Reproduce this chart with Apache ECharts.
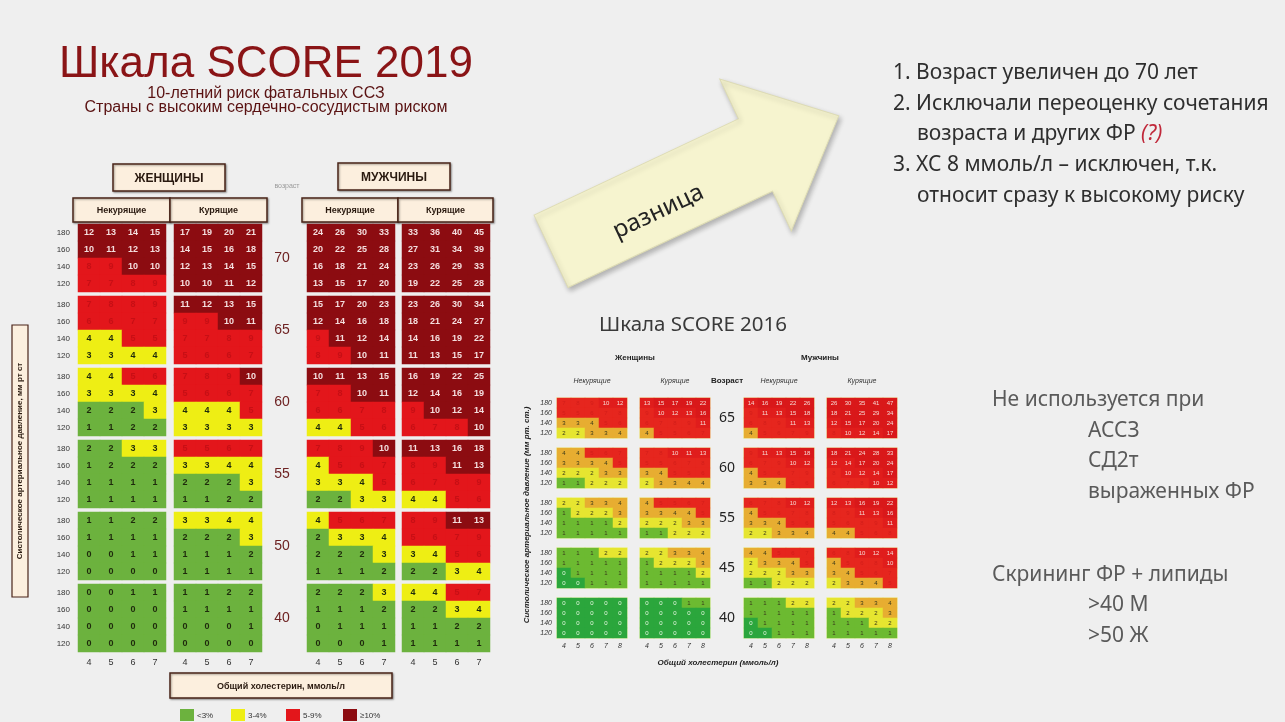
<!DOCTYPE html>
<html lang="ru">
<head>
<meta charset="UTF-8">
<title>Шкала SCORE 2019</title>
<script src="https://cdn.jsdelivr.net/npm/echarts@6.0.0/dist/echarts.min.js"></script>
<style>
  html, body { margin: 0; padding: 0; background: #efefef; }
  #main { width: 1285px; height: 722px; }
</style>
</head>
<body>
<div id="main"></div>
<script>
// ---------- SCORE 2019 (строки: САД 180,160,140,120; столбцы: ХС 4..7) ----------
const ages2019 = [70, 65, 60, 55, 50, 40];
const sbpRows = [180, 160, 140, 120];
const chol2019 = [4, 5, 6, 7];

const women2019NonSmoker = [
  [[12, 13, 14, 15], [10, 11, 12, 13], [8, 9, 10, 10], [7, 7, 8, 9]],
  [[7, 8, 8, 9], [6, 6, 7, 7], [4, 4, 5, 5], [3, 3, 4, 4]],
  [[4, 4, 5, 6], [3, 3, 3, 4], [2, 2, 2, 3], [1, 1, 2, 2]],
  [[2, 2, 3, 3], [1, 2, 2, 2], [1, 1, 1, 1], [1, 1, 1, 1]],
  [[1, 1, 2, 2], [1, 1, 1, 1], [0, 0, 1, 1], [0, 0, 0, 0]],
  [[0, 0, 1, 1], [0, 0, 0, 0], [0, 0, 0, 0], [0, 0, 0, 0]]
];
const women2019Smoker = [
  [[17, 19, 20, 21], [14, 15, 16, 18], [12, 13, 14, 15], [10, 10, 11, 12]],
  [[11, 12, 13, 15], [9, 9, 10, 11], [7, 7, 8, 9], [5, 6, 6, 7]],
  [[7, 8, 9, 10], [5, 6, 6, 7], [4, 4, 4, 5], [3, 3, 3, 3]],
  [[5, 5, 6, 7], [3, 3, 4, 4], [2, 2, 2, 3], [1, 1, 2, 2]],
  [[3, 3, 4, 4], [2, 2, 2, 3], [1, 1, 1, 2], [1, 1, 1, 1]],
  [[1, 1, 2, 2], [1, 1, 1, 1], [0, 0, 0, 1], [0, 0, 0, 0]]
];
const men2019NonSmoker = [
  [[24, 26, 30, 33], [20, 22, 25, 28], [16, 18, 21, 24], [13, 15, 17, 20]],
  [[15, 17, 20, 23], [12, 14, 16, 18], [9, 11, 12, 14], [8, 9, 10, 11]],
  [[10, 11, 13, 15], [7, 8, 10, 11], [6, 6, 7, 8], [4, 4, 5, 6]],
  [[7, 8, 9, 10], [4, 5, 6, 7], [3, 3, 4, 5], [2, 2, 3, 3]],
  [[4, 5, 6, 7], [2, 3, 3, 4], [2, 2, 2, 3], [1, 1, 1, 2]],
  [[2, 2, 2, 3], [1, 1, 1, 2], [0, 1, 1, 1], [0, 0, 0, 1]]
];
const men2019Smoker = [
  [[33, 36, 40, 45], [27, 31, 34, 39], [23, 26, 29, 33], [19, 22, 25, 28]],
  [[23, 26, 30, 34], [18, 21, 24, 27], [14, 16, 19, 22], [11, 13, 15, 17]],
  [[16, 19, 22, 25], [12, 14, 16, 19], [9, 10, 12, 14], [6, 7, 8, 10]],
  [[11, 13, 16, 18], [8, 9, 11, 13], [6, 7, 8, 9], [4, 4, 5, 6]],
  [[8, 9, 11, 13], [5, 6, 7, 9], [3, 4, 5, 6], [2, 2, 3, 4]],
  [[4, 4, 5, 7], [2, 2, 3, 4], [1, 1, 2, 2], [1, 1, 1, 1]]
];
const legend2019 = ['<3%', '3-4%', '5-9%', '≥10%'];

// ---------- SCORE 2016 (столбцы: ХС 4..8) ----------
const ages2016 = [65, 60, 55, 45, 40];
const chol2016 = [4, 5, 6, 7, 8];

const women2016NonSmoker = [
  [[7, 8, 9, 10, 12], [5, 5, 6, 7, 8], [3, 3, 4, 5, 6], [2, 2, 3, 3, 4]],
  [[4, 4, 5, 6, 7], [3, 3, 3, 4, 5], [2, 2, 2, 3, 3], [1, 1, 2, 2, 2]],
  [[2, 2, 3, 3, 4], [1, 2, 2, 2, 3], [1, 1, 1, 1, 2], [1, 1, 1, 1, 1]],
  [[1, 1, 1, 2, 2], [1, 1, 1, 1, 1], [0, 1, 1, 1, 1], [0, 0, 1, 1, 1]],
  [[0, 0, 0, 0, 0], [0, 0, 0, 0, 0], [0, 0, 0, 0, 0], [0, 0, 0, 0, 0]]
];
const women2016Smoker = [
  [[13, 15, 17, 19, 22], [9, 10, 12, 13, 16], [6, 7, 8, 9, 11], [4, 5, 5, 6, 7]],
  [[7, 8, 10, 11, 13], [5, 5, 6, 7, 8], [3, 4, 5, 5, 6], [2, 3, 3, 4, 4]],
  [[4, 5, 5, 6, 7], [3, 3, 4, 4, 5], [2, 2, 2, 3, 3], [1, 1, 2, 2, 2]],
  [[2, 2, 3, 3, 4], [1, 2, 2, 2, 3], [1, 1, 1, 1, 2], [1, 1, 1, 1, 1]],
  [[0, 0, 0, 1, 1], [0, 0, 0, 0, 0], [0, 0, 0, 0, 0], [0, 0, 0, 0, 0]]
];
const men2016NonSmoker = [
  [[14, 16, 19, 22, 26], [9, 11, 13, 15, 18], [6, 8, 9, 11, 13], [4, 5, 6, 7, 9]],
  [[9, 11, 13, 15, 18], [6, 7, 9, 10, 12], [4, 5, 6, 7, 9], [3, 3, 4, 5, 6]],
  [[6, 7, 8, 10, 12], [4, 5, 6, 7, 8], [3, 3, 4, 5, 6], [2, 2, 3, 3, 4]],
  [[4, 4, 5, 6, 7], [2, 3, 3, 4, 5], [2, 2, 2, 3, 3], [1, 1, 2, 2, 2]],
  [[1, 1, 1, 2, 2], [1, 1, 1, 1, 1], [0, 1, 1, 1, 1], [0, 0, 1, 1, 1]]
];
const men2016Smoker = [
  [[26, 30, 35, 41, 47], [18, 21, 25, 29, 34], [12, 15, 17, 20, 24], [8, 10, 12, 14, 17]],
  [[18, 21, 24, 28, 33], [12, 14, 17, 20, 24], [8, 10, 12, 14, 17], [6, 7, 8, 10, 12]],
  [[12, 13, 16, 19, 22], [8, 9, 11, 13, 16], [5, 6, 8, 9, 11], [4, 4, 5, 6, 8]],
  [[6, 8, 10, 12, 14], [4, 5, 6, 8, 10], [3, 4, 5, 6, 7], [2, 3, 3, 4, 5]],
  [[2, 2, 3, 3, 4], [1, 2, 2, 2, 3], [1, 1, 1, 2, 2], [1, 1, 1, 1, 1]]
];

// ---------- тексты справа ----------
const diffNotes = [
  '1. Возраст увеличен до 70 лет',
  '2. Исключали переоценку сочетания',
  'возраста и других ФР ',
  '3. ХС 8 ммоль/л – исключен, т.к.',
  'относит сразу к высокому риску'
];
const notUsedLines = ['Не используется при', 'АССЗ', 'СД2т', 'выраженных ФР'];
const screeningLines = ['Скрининг ФР + липиды', '>40 М', '>50 Ж'];

// ---------- построение ----------
const sbpAsc = sbpRows.slice().reverse().map(String);
const grid = [], xAxis = [], yAxis = [], series = [];

function addPanel(values, cols, left, top, w, h, showX, showY, look) {
  const i = grid.length;
  grid.push({
    left: left, top: top, width: w, height: h,
    show: !!look.border, borderColor: look.border || 'transparent',
    borderWidth: look.border ? 2 : 0, backgroundColor: 'transparent'
  });
  xAxis.push({
    gridIndex: i, type: 'category', data: cols.map(String),
    axisLine: { show: false }, axisTick: { show: false }, splitLine: { show: false },
    axisLabel: Object.assign({ show: showX }, look.xLabel)
  });
  yAxis.push({
    gridIndex: i, type: 'category', data: sbpAsc,
    axisLine: { show: false }, axisTick: { show: false }, splitLine: { show: false },
    axisLabel: Object.assign({ show: showY }, look.yLabel)
  });
  const data = [];
  values.forEach(function (row, r) {
    row.forEach(function (v, c) {
      data.push({ value: [c, values.length - 1 - r, v], label: { color: look.textColor(v) } });
    });
  });
  series.push({
    type: 'heatmap', xAxisIndex: i, yAxisIndex: i, data: data,
    label: Object.assign({ show: true }, look.cellLabel),
    itemStyle: { borderWidth: 0 }, emphasis: { disabled: true }, silent: true
  });
}

// 2019
const colors2019 = ['#6cb23e', '#eeee14', '#e3161b', '#8c0c11'];
const look2019 = {
  xLabel: { fontSize: 9, color: '#333', margin: 6, fontFamily: 'Liberation Sans' },
  yLabel: { fontSize: 8, color: '#333', margin: 8, fontFamily: 'Liberation Sans' },
  cellLabel: { fontSize: 9, fontWeight: 'bold', fontFamily: 'Liberation Sans' },
  textColor: function (v) { return v >= 10 ? '#f4dede' : (v >= 5 ? '#c70f15' : '#1e2a0c'); }
};
const panels2019 = [women2019NonSmoker, women2019Smoker, men2019NonSmoker, men2019Smoker];
const lefts2019 = [78, 174, 307, 402];
const tops2019 = [224, 296, 368, 440, 512, 584];
panels2019.forEach(function (panel, g) {
  panel.forEach(function (block, a) {
    addPanel(block, chol2019, lefts2019[g], tops2019[a], 88, 68,
      a === ages2019.length - 1, g === 0, look2019);
  });
});
const n2019 = series.length;

// 2016
const look2016 = {
  border: '#eef3c4',
  xLabel: { fontSize: 7, color: '#333', margin: 5, fontStyle: 'italic', fontFamily: 'Liberation Sans' },
  yLabel: { fontSize: 7, color: '#333', margin: 5, fontStyle: 'italic', fontFamily: 'Liberation Sans' },
  cellLabel: { fontSize: 6, fontFamily: 'Liberation Sans' },
  textColor: function (v) {
    if (v >= 10) return '#f6d8d2';
    if (v >= 5) return '#d21e1a';
    if (v === 0) return '#e6f6e0';
    return '#3a3a1a';
  }
};
const panels2016 = [women2016NonSmoker, women2016Smoker, men2016NonSmoker, men2016Smoker];
const lefts2016 = [557, 640, 744, 827];
const tops2016 = [398, 448, 498, 548, 598];
panels2016.forEach(function (panel, g) {
  panel.forEach(function (block, a) {
    addPanel(block, chol2016, lefts2016[g], tops2016[a], 70, 40,
      a === ages2016.length - 1, g === 0, look2016);
  });
});

const idx2019 = [], idx2016 = [];
series.forEach(function (s, i) { (i < n2019 ? idx2019 : idx2016).push(i); });

// ---------- графика: заголовки, рамки, стрелка ----------
const CREAM = '#fcefde', FRAME = '#4a2418';
function box(x, y, w, h, text, fontSize) {
  return {
    type: 'group', x: x, y: y,
    children: [
      { type: 'rect', shape: { x: 0, y: 0, width: w, height: h },
        style: { fill: CREAM, stroke: FRAME, lineWidth: 1.5,
                 shadowBlur: 2, shadowOffsetX: 1, shadowOffsetY: 1, shadowColor: 'rgba(0,0,0,0.35)' } },
      { type: 'text', x: w / 2, y: h / 2 + 1,
        style: { text: text, font: 'bold ' + fontSize + 'px "Liberation Sans"', fill: '#2a1a10',
                 textAlign: 'center', textVerticalAlign: 'middle', align: 'center', verticalAlign: 'middle' } }
    ]
  };
}
function txt(x, y, text, font, fill, align, extraStyle) {
  return {
    type: 'text', x: x, y: y,
    style: Object.assign({ text: text, font: font, fill: fill, textAlign: align || 'left', align: align || 'left',
             textVerticalAlign: 'middle', verticalAlign: 'middle' }, extraStyle || {})
  };
}

const graphics = [];
// SCORE 2019 заголовок
graphics.push(txt(266, 65, 'Шкала SCORE 2019', '44px "Liberation Sans"', '#8a1416', 'center',
  { shadowBlur: 2, shadowColor: 'rgba(120,0,0,0.3)' }));
graphics.push(txt(266, 94, '10-летний риск фатальных ССЗ', '16px "Liberation Sans"', '#5a1212', 'center'));
graphics.push(txt(266, 108, 'Страны с высоким сердечно-сосудистым риском', '16px "Liberation Sans"', '#5a1212', 'center'));
graphics.push(box(113, 164, 112, 27, 'ЖЕНЩИНЫ', 12));
graphics.push(box(338, 163, 112, 27, 'МУЖЧИНЫ', 12));
graphics.push(txt(287, 186, 'возраст', '7px "Liberation Sans"', '#9a9a9a', 'center'));
graphics.push(box(73, 198, 97, 24, 'Некурящие', 9));
graphics.push(box(170, 198, 97, 24, 'Курящие', 9));
graphics.push(box(302, 198, 96, 24, 'Некурящие', 9));
graphics.push(box(398, 198, 95, 24, 'Курящие', 9));
ages2019.forEach(function (age, a) {
  graphics.push(txt(282, tops2019[a] + 34, String(age), '14px "Liberation Sans"', '#6e2222', 'center'));
});
graphics.push(box(170, 673, 222, 25, 'Общий холестерин, ммоль/л', 9));
// легенда 2019
const legendX = [180, 231, 286, 343];
legend2019.forEach(function (name, i) {
  graphics.push({ type: 'rect', shape: { x: legendX[i], y: 709, width: 14, height: 12 },
                  style: { fill: colors2019[i] } });
  graphics.push(txt(legendX[i] + 17, 716, name, '8px "Liberation Sans"', '#333', 'left'));
});
// вертикальная подпись оси САД
graphics.push({
  type: 'group', x: 12, y: 325,
  children: [
    { type: 'rect', shape: { x: 0, y: 0, width: 16, height: 272 },
      style: { fill: CREAM, stroke: FRAME, lineWidth: 1.2 } },
    { type: 'text', x: 8, y: 136, rotation: Math.PI / 2,
      style: { text: 'Систолическое артериальное давление, мм рт ст', font: 'bold 8px "Liberation Sans"', fill: '#2a1a10',
               textAlign: 'center', align: 'center', textVerticalAlign: 'middle', verticalAlign: 'middle' } }
  ]
});

// SCORE 2016
graphics.push(txt(693, 325, 'Шкала SCORE 2016', '20.5px "Noto Sans"', '#3a3a3a', 'center'));
graphics.push(txt(635, 358, 'Женщины', 'bold 8px "Liberation Sans"', '#222', 'center'));
graphics.push(txt(820, 358, 'Мужчины', 'bold 8px "Liberation Sans"', '#222', 'center'));
graphics.push(txt(592, 381, 'Некурящие', 'italic 7px "Liberation Sans"', '#333', 'center'));
graphics.push(txt(675, 381, 'Курящие', 'italic 7px "Liberation Sans"', '#333', 'center'));
graphics.push(txt(727, 381, 'Возраст', 'bold 8px "Liberation Sans"', '#222', 'center'));
graphics.push(txt(779, 381, 'Некурящие', 'italic 7px "Liberation Sans"', '#333', 'center'));
graphics.push(txt(862, 381, 'Курящие', 'italic 7px "Liberation Sans"', '#333', 'center'));
ages2016.forEach(function (age, a) {
  graphics.push(txt(727, tops2016[a] + 20, String(age), '14px "Noto Sans"', '#222', 'center'));
});
graphics.push(txt(718, 663, 'Общий холестерин (ммоль/л)', 'bold italic 8px "Liberation Sans"', '#222', 'center'));
graphics.push({
  type: 'text', x: 527, y: 515, rotation: Math.PI / 2,
  style: { text: 'Систолическое артериальное давление (мм рт. ст.)', font: 'bold italic 8px "Liberation Sans"', fill: '#222',
           textAlign: 'center', align: 'center', textVerticalAlign: 'middle', verticalAlign: 'middle' }
});

// стрелка «разница»
graphics.push({
  type: 'group', x: 694, y: 184, rotation: 0.44,
  children: [
    { type: 'polygon',
      shape: { points: [[-158, -40], [68, -40], [68, -84], [160, 0], [68, 84], [68, 40], [-158, 40]] },
      style: { fill: '#f6f4cf', stroke: '#dddbb4', lineWidth: 1,
               shadowBlur: 5, shadowOffsetX: 2, shadowOffsetY: 3, shadowColor: 'rgba(0,0,0,0.25)' } },
    { type: 'text', x: -44, y: 10,
      style: { text: 'разница', font: '24px "Noto Sans"', fill: '#222',
               textAlign: 'center', align: 'center', textVerticalAlign: 'middle', verticalAlign: 'middle' } }
  ]
});

// текст справа
const noteY = [73, 104, 134, 165, 196];
const noteX = [893, 893, 917, 893, 917];
diffNotes.forEach(function (line, i) {
  if (i === 2) {
    graphics.push({
      type: 'text', x: noteX[i], y: noteY[i],
      style: { text: '{a|' + line + '}{b|(?)}', textVerticalAlign: 'middle', verticalAlign: 'middle',
               rich: { a: { font: '21px "Noto Sans"', fill: '#2e2e2e' },
                       b: { font: 'italic 21px "Noto Sans"', fill: '#c0283a' } } }
    });
  } else {
    graphics.push(txt(noteX[i], noteY[i], line, '21px "Noto Sans"', '#2e2e2e', 'left'));
  }
});
notUsedLines.forEach(function (line, i) {
  graphics.push(txt(i === 0 ? 992 : 1088, 400 + i * 30.7, line, '21px "Noto Sans"', '#5a5a5a', 'left'));
});
screeningLines.forEach(function (line, i) {
  graphics.push(txt(i === 0 ? 992 : 1088, 575 + i * 30.5, line, '21px "Noto Sans"', '#5a5a5a', 'left'));
});

const chart = echarts.init(document.getElementById('main'));
chart.setOption({
  backgroundColor: '#efefef',
  animation: false,
  grid: grid, xAxis: xAxis, yAxis: yAxis,
  visualMap: [
    {
      type: 'piecewise', seriesIndex: idx2019, dimension: 2, show: false,
      pieces: [
        { lt: 3, color: colors2019[0], label: legend2019[0] },
        { gte: 3, lte: 4, color: colors2019[1], label: legend2019[1] },
        { gte: 5, lte: 9, color: colors2019[2], label: legend2019[2] },
        { gte: 10, color: colors2019[3], label: legend2019[3] }
      ]
    },
    {
      type: 'piecewise', seriesIndex: idx2016, dimension: 2, show: false,
      pieces: [
        { lt: 1, color: '#2ba63c' },
        { gte: 1, lt: 2, color: '#6cba31' },
        { gte: 2, lt: 3, color: '#e6e530' },
        { gte: 3, lte: 4, color: '#e7ad31' },
        { gte: 5, lte: 9, color: '#e6261e' },
        { gte: 10, lte: 14, color: '#e01d1c' },
        { gte: 15, color: '#d9181a' }
      ]
    }
  ],
  series: series,
  graphic: { elements: graphics }
});
</script>
</body>
</html>
